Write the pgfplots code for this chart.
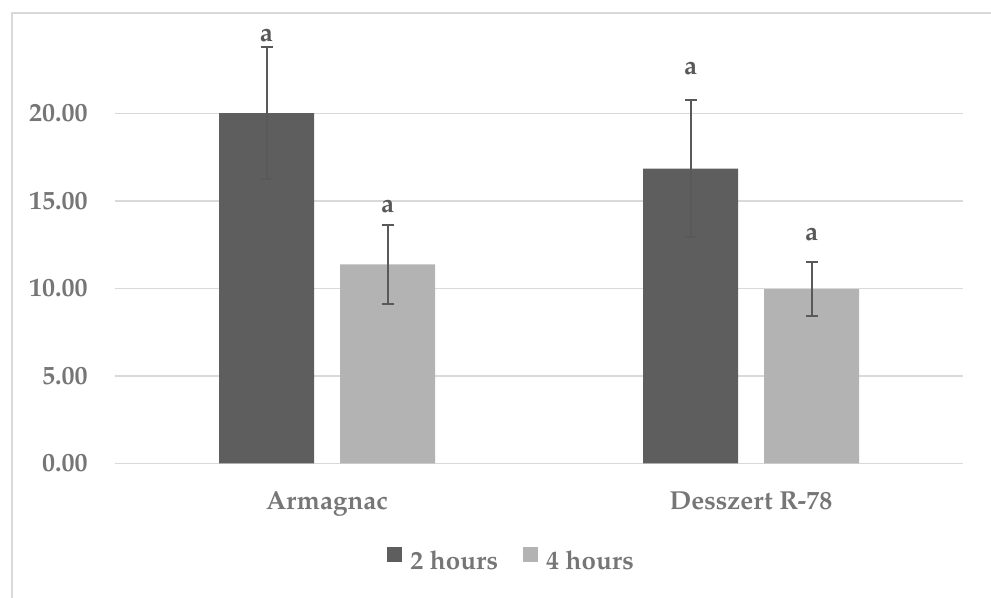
\documentclass[border=0pt]{standalone}
\usepackage{fontspec}
\setmainfont{TeX Gyre Pagella}
\usepackage{pgfplots}
\pgfplotsset{compat=1.18}
\definecolor{darkbar}{RGB}{94,94,94}
\definecolor{lightbar}{RGB}{179,179,179}
\definecolor{txt}{RGB}{118,118,118}
\definecolor{lbl}{RGB}{89,89,89}
\definecolor{gridc}{RGB}{217,217,217}
\begin{document}
\begin{tikzpicture}[font=\fontsize{13}{15.6}\selectfont\bfseries]
\useasboundingbox (0,0) rectangle (495.5pt,299pt);
\draw[gridc, line width=0.75pt] (6pt,0) -- (6pt,292.5pt) -- (495.5pt,292.5pt);
\begin{axis}[
  at={(57.5pt,67.25pt)}, anchor=south west,
  scale only axis, width=424pt, height=218.75pt,
  ybar, bar width=47.5pt,
  xmin=-0.5, xmax=1.5, ymin=0, ymax=25,
  xtick={0,1}, xticklabels={Armagnac, Desszert R-78},
  ytick={0,5,10,15,20},
  axis line style={draw=none}, tick style={draw=none}, major tick length=0pt,
  ymajorgrids, grid style={gridc, line width=0.75pt},
  yticklabel style={anchor=east, inner sep=0pt, xshift=-13.5pt, text=txt,
    /pgf/number format/.cd, fixed, fixed zerofill, precision=2, assume math mode=true},
  xticklabel style={anchor=base, inner sep=0pt, yshift=-23.25pt, text=txt},
  legend columns=2,
  legend image code/.code={\fill[#1] (0pt,0pt) rectangle (7.5pt,7.5pt);},
  legend style={draw=none, fill=none, at={(axis description cs:0.469,0)}, anchor=north,
    yshift=-41.5pt, inner sep=0pt, text=txt,
    /tikz/every odd column/.append style={column sep=2pt},
    /tikz/every even column/.append style={column sep=10.5pt}},
  error bars/y dir=both, error bars/y explicit,
  error bars/error bar style={lbl, line width=1pt},
  error bars/error mark options={rotate=90, mark size=3pt, lbl, line width=1pt},
]
\addplot[bar shift=-30.25pt, fill=darkbar, draw=none]
  coordinates {(0,20.02) +- (0,3.76) (1,16.85) +- (0,3.92)};
\addplot[bar shift=30.25pt, fill=lightbar, draw=none]
  coordinates {(0,11.38) +- (0,2.25) (1,9.96) +- (0,1.54)};
\legend{2 hours, 4 hours}
\node[anchor=base, inner sep=0pt, text=lbl] at (axis cs:-0.1427,24.10) {a};
\node[anchor=base, inner sep=0pt, text=lbl] at (axis cs:0.1427,14.33) {a};
\node[anchor=base, inner sep=0pt, text=lbl] at (axis cs:0.8573,22.2) {a};
\node[anchor=base, inner sep=0pt, text=lbl] at (axis cs:1.1427,12.77) {a};
\end{axis}
\end{tikzpicture}
\end{document}
